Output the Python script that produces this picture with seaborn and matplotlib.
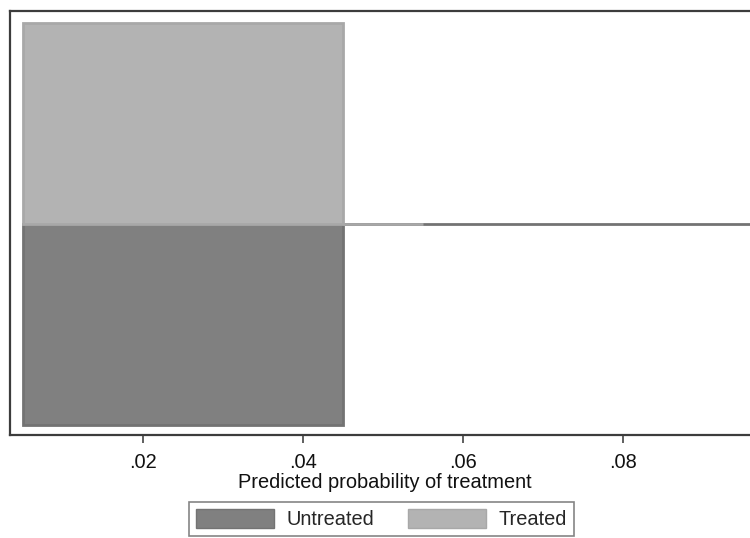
import matplotlib
matplotlib.use("Agg")
import matplotlib.pyplot as plt
from matplotlib.patches import Patch
import numpy as np
import pandas as pd
import seaborn as sns

sns.set_theme(style="white")
plt.rcParams["font.family"] = ["Liberation Sans", "DejaVu Sans"]

# Histogram bins of the propensity score (fraction of each group per bin)
treated_edges = [0.005, 0.045, 0.055]
treated_frac = [1.0, 0.0]
untreated_edges = [0.005, 0.045, 0.105]
untreated_frac = [1.0, 0.0]

tick_values = [0.02, 0.04, 0.06, 0.08]
tick_labels = [".02", ".04", ".06", ".08"]
x_label = "Predicted probability of treatment"
group_names = ["Untreated", "Treated"]

untreated_color = "#808080"
treated_color = "#b3b3b3"
fs = 14.4

def centers(edges):
    e = np.asarray(edges)
    return (e[:-1] + e[1:]) / 2

treated_df = pd.DataFrame({"ps": centers(treated_edges), "w": treated_frac})
untreated_df = pd.DataFrame({"ps": centers(untreated_edges),
                             "w": -np.asarray(untreated_frac)})

fig = plt.figure(figsize=(7.5, 5.38), dpi=100)
ax = fig.add_axes([10 / 750, 103 / 538, 1.0, 424 / 538])

sns.histplot(data=untreated_df, x="ps", weights="w", bins=untreated_edges,
             color=untreated_color, edgecolor="#737373", linewidth=2.0,
             alpha=1, ax=ax)
sns.histplot(data=treated_df, x="ps", weights="w", bins=treated_edges,
             color=treated_color, edgecolor="#a8a8a8", linewidth=2.0,
             alpha=1, ax=ax)

px_per_unit = 8000.0
xmin = 0.02 - 133 / px_per_unit
ax.set_xlim(xmin, xmin + 750 / px_per_unit)
ax.set_ylim(-1.05, 1.06)

ax.set_xticks(tick_values)
ax.set_xticklabels(tick_labels, fontsize=fs, color="#111111")
ax.set_yticks([])
ax.set_ylabel("")
ax.set_xlabel(x_label, fontsize=fs, color="#111111", labelpad=1)
ax.tick_params(axis="x", direction="out", length=6, width=1.2,
               color="#444444", pad=7, bottom=True)

for side in ["left", "top", "bottom", "right"]:
    ax.spines[side].set_color("#3c3c3c")
    ax.spines[side].set_linewidth(1.6)

handles = [Patch(facecolor=untreated_color, edgecolor="#737373"),
           Patch(facecolor=treated_color, edgecolor="#a8a8a8")]
leg = fig.legend(handles, group_names, loc="center",
                 bbox_to_anchor=(381.5 / 750, 1 - 519 / 538), ncol=2,
                 fontsize=fs, frameon=True, fancybox=False,
                 edgecolor="#666666", handlelength=3.9, handleheight=1.05,
                 handletextpad=0.65, columnspacing=1.65, borderpad=0.35,
                 borderaxespad=0)
leg.get_frame().set_linewidth(1.2)

fig.savefig("out.png", dpi=100)
